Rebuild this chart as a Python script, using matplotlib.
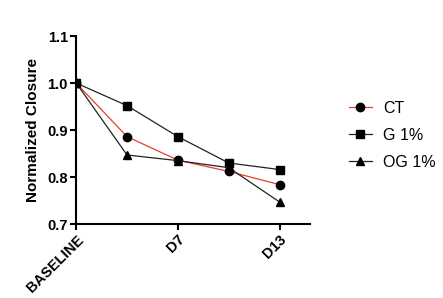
import matplotlib
matplotlib.use("Agg")
import matplotlib.pyplot as plt
from matplotlib.ticker import FormatStrFormatter

plt.rcParams['font.family'] = ['Liberation Sans', 'DejaVu Sans']

x_pos = [0, 1, 2, 3, 4]
tick_pos = [0, 2, 4]
tick_labels = ["BASELINE", "D7", "D13"]
ct = [1.0, 0.886, 0.836, 0.812, 0.784]
g1 = [1.0, 0.952, 0.886, 0.830, 0.816]
og1 = [1.0, 0.847, 0.835, 0.820, 0.747]

fig = plt.figure(figsize=(4.43, 2.98), dpi=100)
ax = fig.add_axes([0.172, 0.248, 0.528, 0.631])

ax.plot(x_pos, ct, color='#e8402a', lw=0.9, marker='o', ms=6, mfc='black', mec='black', label='CT', zorder=3)
ax.plot(x_pos, g1, color='#222222', lw=0.9, marker='s', ms=6, mfc='black', mec='black', label='G 1%', zorder=3)
ax.plot(x_pos, og1, color='#222222', lw=0.9, marker='^', ms=6, mfc='black', mec='black', label='OG 1%', zorder=3)

ax.set_xlim(0, 4.6)
ax.set_ylim(0.7, 1.1)
ax.set_yticks([0.7, 0.8, 0.9, 1.0, 1.1])
ax.yaxis.set_major_formatter(FormatStrFormatter('%.1f'))
ax.set_xticks(tick_pos)
ax.set_xticklabels(tick_labels, rotation=45, ha='right', rotation_mode='anchor', fontweight='bold', fontsize=10.5)
for lab in ax.get_yticklabels():
    lab.set_fontweight('bold')
    lab.set_fontsize(10.5)
ax.set_ylabel('Normalized Closure', fontweight='bold', fontsize=11, labelpad=5)

for s in ['top', 'right']:
    ax.spines[s].set_visible(False)
for s in ['left', 'bottom']:
    ax.spines[s].set_linewidth(1.5)
ax.tick_params(width=1.5, length=4, pad=2)
for m in ax.spines.values():
    m.set_clip_on(False)

leg = ax.legend(loc='upper left', bbox_to_anchor=(1.14, 0.69), frameon=False, fontsize=11.5,
                handlelength=1.4, labelspacing=0.75, borderaxespad=0, handletextpad=0.7)

fig.savefig('out.png', dpi=100)
